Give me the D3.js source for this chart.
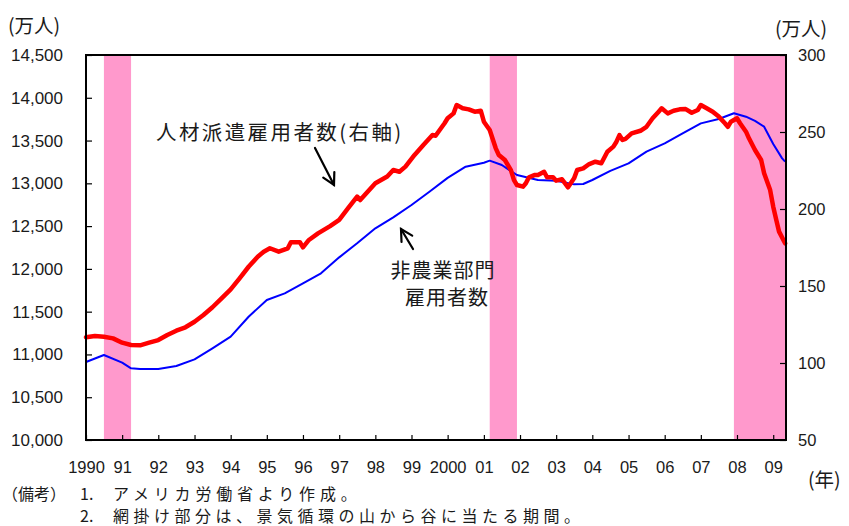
<!DOCTYPE html>
<html lang="ja">
<head>
<meta charset="utf-8">
<script src="https://cdn.jsdelivr.net/npm/d3@7"></script>
<style>
  html, body { margin: 0; padding: 0; background: #fff; }
  svg { display: block; }
  .num { font-family: "Liberation Sans", Arial, sans-serif; fill: #1a1a1a; }
  .jp { font-family: "Noto Sans CJK JP", "Noto Sans", sans-serif; fill: #1a1a1a; }
</style>
</head>
<body>
<svg id="chart" width="849" height="526"></svg>
<script>
// 非農業部門雇用者数（万人、左軸）
const payrollDates = [
  "1990-01","1990-07","1991-01","1991-04","1991-07","1992-01","1992-07","1993-01",
  "1993-07","1994-01","1994-07","1995-01","1995-07","1996-01","1996-07","1997-01",
  "1997-07","1998-01","1998-07","1999-01","1999-07","2000-01","2000-07","2001-01",
  "2001-03","2001-07","2001-12","2002-07","2003-01","2003-07","2003-10","2004-01",
  "2004-07","2005-01","2005-07","2006-01","2006-07","2007-01","2007-07","2007-12",
  "2008-04","2008-07","2008-10","2009-01","2009-04","2009-05"
];
const payrollValues = [
  10912,10994,10904,10838,10830,10830,10865,10943,
  11072,11208,11441,11636,11714,11831,11948,12135,
  12299,12474,12603,12747,12902,13064,13195,13241,
  13265,13214,13097,13039,13031,12988,12992,13039,
  13145,13234,13370,13467,13584,13701,13752,13819,
  13779,13729,13662,13460,13292,13253
];

// 人材派遣雇用者数（万人、右軸）
const tempDates = [
  "1990-01","1990-04","1990-07","1990-10","1991-01","1991-04","1991-07","1991-10",
  "1992-01","1992-04","1992-07","1992-10","1993-01","1993-04","1993-07","1993-10",
  "1994-01","1994-04","1994-07","1994-10","1994-12","1995-02","1995-05","1995-08",
  "1995-09","1995-12","1996-01","1996-03","1996-06","1996-10","1997-01","1997-04",
  "1997-07","1997-08","1998-01","1998-05","1998-07","1998-09","1998-11","1999-02",
  "1999-05","1999-08","1999-09","1999-12","2000-01","2000-03","2000-04","2000-06",
  "2000-08","2000-10","2000-12","2001-01","2001-03","2001-05","2001-06","2001-08",
  "2001-10","2001-11","2001-12","2002-02","2002-03","2002-04","2002-06","2002-07",
  "2002-09","2002-10","2002-12","2003-01","2003-03","2003-04","2003-05","2003-07",
  "2003-08","2003-10","2003-12","2004-02","2004-04","2004-06","2004-08","2004-09",
  "2004-10","2004-11","2004-12","2005-02","2005-05","2005-07","2005-09","2005-11",
  "2005-12","2006-02","2006-04","2006-06","2006-08","2006-10","2006-12","2007-01",
  "2007-03","2007-05","2007-07","2007-09","2007-10","2007-11","2007-12","2008-01",
  "2008-02","2008-04","2008-05","2008-07","2008-09","2008-10","2008-12","2009-01",
  "2009-02","2009-03","2009-05"
];
const tempValues = [
  116.7,117.5,117.1,116.0,113.2,111.7,111.5,113.2,
  114.9,118.2,121.0,123.2,126.8,131.2,136.2,142.0,
  147.8,155.0,162.5,169.0,172.3,174.5,172.3,174.5,
  178.4,178.4,175.1,179.9,184.2,188.9,192.9,200.5,
  208.1,205.8,216.7,221.1,225.3,224.2,227.5,235.1,
  241.6,248.0,247.6,255.7,258.9,262.1,267.5,265.4,
  264.7,263.2,263.8,256.7,251.3,239.4,235.1,231.8,
  225.3,218.8,215.6,214.5,216.7,220.6,222.1,222.1,
  224.2,220.6,220.6,218.4,219.3,216.7,214.1,219.9,
  225.3,226.4,229.2,230.7,229.7,237.2,240.5,243.7,
  248.0,244.8,245.5,249.1,250.8,253.4,258.9,263.2,
  265.4,262.1,263.8,264.7,264.9,262.5,264.3,267.5,
  265.4,263.2,260.0,255.7,253.4,256.7,257.8,258.9,
  255.7,250.2,245.9,238.3,231.8,223.2,212.3,201.5,
  192.9,185.3,177.7
];

// 景気後退期（山から谷）
const recessionStarts = ["1990-07","2001-03","2007-12"];
const recessionEnds   = ["1991-04","2001-12","2009-05"];

// 目盛り
const leftTicks  = [10000,10500,11000,11500,12000,12500,13000,13500,14000,14500];
const rightTicks = [50,100,150,200,250,300];
const yearTicks  = d3.range(1990, 2010);

const parse = d3.timeParse("%Y-%m");
const W = 849, H = 526;
const plot = { left: 86, right: 786, top: 55, bottom: 440 };

const x = d3.scaleTime()
  .domain([new Date(1990, 0, 1), new Date(2009, 4, 10)])
  .range([plot.left, plot.right]);
const yL = d3.scaleLinear().domain([10000, 14500]).range([plot.bottom, plot.top]);
const yR = d3.scaleLinear().domain([50, 300]).range([plot.bottom, plot.top]);

const svg = d3.select("#chart");
svg.append("rect").attr("width", W).attr("height", H).attr("fill", "#fff");

// 網掛け
svg.append("g").selectAll("rect")
  .data(d3.zip(recessionStarts, recessionEnds))
  .join("rect")
  .attr("x", d => x(parse(d[0])))
  .attr("width", d => Math.min(x(parse(d[1])), plot.right) - x(parse(d[0])))
  .attr("y", plot.top)
  .attr("height", plot.bottom - plot.top)
  .attr("fill", "#ff99cc");

// 系列
const payroll = payrollDates.map((d, i) => [parse(d), payrollValues[i]]);
const temp = tempDates.map((d, i) => [parse(d), tempValues[i]]);

svg.append("path")
  .datum(payroll)
  .attr("fill", "none")
  .attr("stroke", "#0000ff")
  .attr("stroke-width", 2)
  .attr("stroke-linejoin", "round")
  .attr("d", d3.line().x(d => x(d[0])).y(d => yL(d[1])));

svg.append("path")
  .datum(temp)
  .attr("fill", "none")
  .attr("stroke", "#ff0000")
  .attr("stroke-width", 4.5)
  .attr("stroke-linejoin", "round")
  .attr("stroke-linecap", "round")
  .attr("d", d3.line().x(d => x(d[0])).y(d => yR(d[1])));

// 軸
const gL = svg.append("g")
  .attr("transform", `translate(${plot.left},0)`)
  .call(d3.axisLeft(yL).tickValues(leftTicks).tickFormat(d3.format(","))
    .tickSizeInner(-6).tickSizeOuter(0).tickPadding(23));
const gR = svg.append("g")
  .attr("transform", `translate(${plot.right},0)`)
  .call(d3.axisRight(yR).tickValues(rightTicks).tickFormat(d3.format("d"))
    .tickSizeInner(-6).tickSizeOuter(0).tickPadding(12));
const gX = svg.append("g")
  .attr("transform", `translate(0,${plot.bottom})`)
  .call(d3.axisBottom(x).tickValues(yearTicks.map(y => new Date(y, 0, 1)))
    .tickFormat(d => {
      const yr = d.getFullYear();
      return (yr === 1990 || yr === 2000) ? String(yr) : String(yr % 100).padStart(2, "0");
    })
    .tickSizeInner(-5).tickSizeOuter(0).tickPadding(21));

[gL, gR, gX].forEach(g => {
  g.select(".domain").remove();
  g.selectAll(".tick line").attr("stroke", "#000").attr("stroke-width", 1.2);
  g.selectAll(".tick text").attr("class", "num").attr("font-size", 16.5).attr("fill", "#1a1a1a");
});
gL.selectAll(".tick text").attr("font-size", 17);

// 枠
svg.append("rect")
  .attr("x", plot.left).attr("y", plot.top)
  .attr("width", plot.right - plot.left).attr("height", plot.bottom - plot.top)
  .attr("fill", "none").attr("stroke", "#000").attr("stroke-width", 2);

// 単位
svg.append("text").attr("class", "jp").attr("x", 8).attr("y", 33)
  .attr("font-size", 19.5).text("(万人)");
svg.append("text").attr("class", "jp").attr("x", 775).attr("y", 36)
  .attr("font-size", 19.5).text("(万人)");
svg.append("text").attr("class", "jp").attr("x", 808).attr("y", 487)
  .attr("font-size", 19.5).text("(年)");

// 系列名
svg.append("text").attr("class", "jp").attr("x", 156).attr("y", 140)
  .attr("font-size", 20.5).attr("letter-spacing", 2.4).text("人材派遣雇用者数(右軸)");
svg.append("text").attr("class", "jp").attr("x", 443).attr("y", 278)
  .attr("text-anchor", "middle").attr("font-size", 20).attr("letter-spacing", 1)
  .text("非農業部門");
svg.append("text").attr("class", "jp").attr("x", 447).attr("y", 305)
  .attr("text-anchor", "middle").attr("font-size", 20).attr("letter-spacing", 1)
  .text("雇用者数");

// 矢印
function arrow(x1, y1, x2, y2) {
  const g = svg.append("g").attr("stroke", "#000").attr("stroke-width", 2.2)
    .attr("fill", "none").attr("stroke-linecap", "round");
  g.append("line").attr("x1", x1).attr("y1", y1).attr("x2", x2).attr("y2", y2);
  const a = Math.atan2(y2 - y1, x2 - x1), L = 13, s = 0.5;
  g.append("polyline").attr("points", [
    [x2 - L * Math.cos(a - s), y2 - L * Math.sin(a - s)],
    [x2, y2],
    [x2 - L * Math.cos(a + s), y2 - L * Math.sin(a + s)]
  ].map(p => p.join(",")).join(" "));
}
arrow(315, 148, 334, 185);
arrow(413, 249, 401, 229);

// 備考
svg.append("text").attr("class", "jp").attr("x", 2).attr("y", 500)
  .attr("font-size", 16).text("（備考）");
svg.append("text").attr("class", "jp").attr("x", 80).attr("y", 500)
  .attr("font-size", 16).text("1.");
svg.append("text").attr("class", "jp").attr("x", 113).attr("y", 500)
  .attr("font-size", 16).attr("letter-spacing", 4.8).text("アメリカ労働省より作成。");
svg.append("text").attr("class", "jp").attr("x", 80).attr("y", 522)
  .attr("font-size", 16).text("2.");
svg.append("text").attr("class", "jp").attr("x", 113).attr("y", 522)
  .attr("font-size", 16).attr("letter-spacing", 4.5).text("網掛け部分は、景気循環の山から谷に当たる期間。");
</script>
</body>
</html>
